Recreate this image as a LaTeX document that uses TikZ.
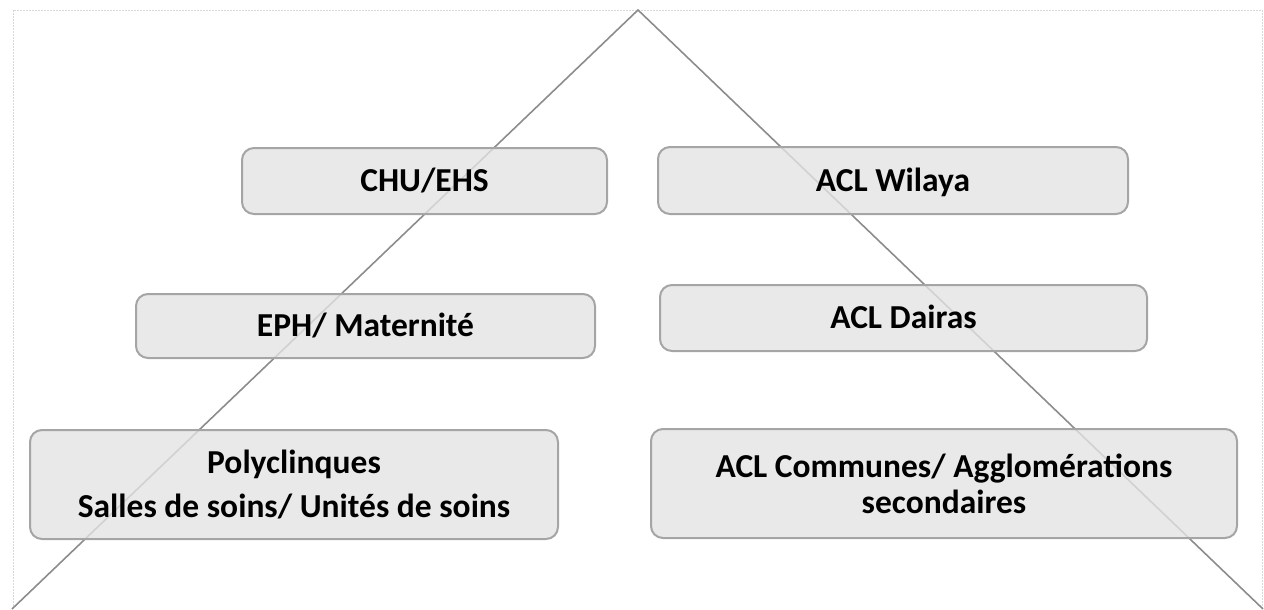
\documentclass[tikz,border=0pt]{standalone}
\usepackage{fontspec}
\setmainfont{Carlito}
\definecolor{boxfill}{HTML}{E3E3E3}
\definecolor{boxline}{HTML}{A5A5A5}
\definecolor{triline}{HTML}{8C8C8C}
\definecolor{frameline}{HTML}{D9D9D9}
\begin{document}
\begin{tikzpicture}[x=1pt,y=-1pt,
  level/.style={draw=boxline, line width=2pt, fill=boxfill, fill opacity=0.8, text opacity=1,
    rounded corners=12pt, align=center, font=\bfseries\fontsize{33.5}{40}\selectfont,
    inner sep=0pt, outer sep=0pt},
  oneline/.style={level, text height=21.5pt, text depth=0pt},
  tri/.style={draw=triline, line width=1.6pt},
  frame/.style={draw=frameline, line width=0.8pt, dash pattern=on 2pt off 1pt}]
\useasboundingbox (0,0) rectangle (1264,610);
\draw[frame] (13,612) -- (13,10) -- (1262,10) -- (1262,612);
\coordinate (apex) at (638,10);
\coordinate (bl) at (12,609);
\coordinate (br) at (1263,609);
\draw[tri] (bl) -- (apex) -- (br);
\node[oneline, minimum width=365pt, minimum height=66pt] (chu) at (424.5,181) {CHU/EHS};
\node[oneline, minimum width=470pt, minimum height=67pt] (wil) at (893,180.5) {ACL Wilaya};
\node[oneline, minimum width=459pt, minimum height=64pt] (eph) at (365.5,326) {EPH/ Maternité};
\node[oneline, minimum width=487pt, minimum height=66pt] (dai) at (903.5,318) {ACL Dairas};
\node[level, minimum width=528pt, minimum height=109pt] (pol) at (294,484.5) {Polyclinques\\[4pt]Salles de soins/ Unités de soins};
\node[level, minimum width=586pt, minimum height=109pt, font=\bfseries\fontsize{33.5}{36}\selectfont] (com) at (944,483.5) {ACL Communes/ Agglomérations\\secondaires};
\end{tikzpicture}
\end{document}
